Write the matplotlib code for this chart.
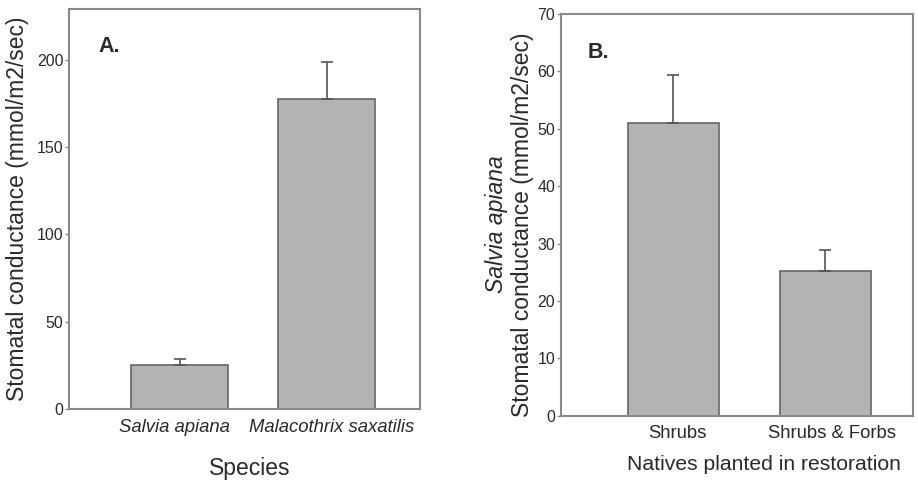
import matplotlib
matplotlib.use("Agg")
import matplotlib.pyplot as plt
from matplotlib.transforms import ScaledTranslation

plt.rcParams['font.family'] = ['Liberation Sans', 'DejaVu Sans']

# Panel A: stomatal conductance by species
species = ["Salvia apiana", "Malacothrix saxatilis"]
cond_species = [25.4, 177.7]
err_species = [3.4, 21.0]

# Panel B: Salvia apiana conductance by restoration planting
plantings = ["Shrubs", "Shrubs & Forbs"]
cond_planting = [51.0, 25.2]
err_planting = [8.4, 3.6]

W, H = 918, 480
fig = plt.figure(figsize=(W / 100, H / 100), dpi=100)

bar_face = "#b3b3b3"
bar_edge = "#666666"
spine_col = "#8a8a8a"
text_col = "#2a2a2a"


def style_axes(ax):
    for s in ax.spines.values():
        s.set_color(spine_col)
        s.set_linewidth(1.5)
    ax.tick_params(axis='y', direction='out', length=3, width=1, color=spine_col,
                   labelsize=11.5, labelcolor=text_col, pad=1)
    ax.tick_params(axis='x', length=0, labelsize=13.3, labelcolor=text_col, pad=7)


def nudge_xticklabels(ax, shifts_px):
    # small horizontal offsets (in pixels) for category labels
    for lab, dx in zip(ax.get_xticklabels(), shifts_px):
        lab.set_transform(lab.get_transform() +
                          ScaledTranslation(dx / 100, 0, fig.dpi_scale_trans))


# ---- Panel A ----
axA = fig.add_axes([69 / W, 1 - 409 / H, 351 / W, 400 / H])
xA = list(range(len(species)))
axA.bar(xA, cond_species, width=0.66, color=bar_face, edgecolor=bar_edge, linewidth=1.2,
        yerr=[[0] * len(err_species), err_species], ecolor="#555555",
        error_kw=dict(elinewidth=1.2, capsize=4, capthick=1.2), zorder=2)
axA.set_xlim(-0.755, 1.633)
axA.set_ylim(0, 229)
axA.set_yticks([0, 50, 100, 150, 200])
axA.set_xticks(xA)
axA.set_xticklabels(species, fontstyle='italic')
style_axes(axA)
nudge_xticklabels(axA, [-6, 5])
axA.text(0.085, 0.905, "A.", transform=axA.transAxes, fontsize=15.5, fontweight='bold',
         color=text_col, ha='left', va='center')

fig.text(18 / W, 1 - 209 / H, "Stomatal conductance (mmol/m2/sec)", rotation=90,
         ha='center', va='center', fontsize=16.5, color=text_col)
fig.text(250 / W, 1 - 468 / H, "Species", ha='center', va='center',
         fontsize=16.5, color=text_col)

# ---- Panel B ----
axB = fig.add_axes([560.7 / W, 1 - 415.7 / H, 352.6 / W, 401.7 / H])
xB = list(range(len(plantings)))
axB.bar(xB, cond_planting, width=0.6, color=bar_face, edgecolor=bar_edge, linewidth=1.2,
        yerr=[[0] * len(err_planting), err_planting], ecolor="#555555",
        error_kw=dict(elinewidth=1.2, capsize=4, capthick=1.2), zorder=2)
axB.set_xlim(-0.74, 1.58)
axB.set_ylim(0, 70)
axB.set_yticks([0, 10, 20, 30, 40, 50, 60, 70])
axB.set_xticks(xB)
axB.set_xticklabels(plantings)
style_axes(axB)
nudge_xticklabels(axB, [4, 7])
axB.text(0.075, 0.905, "B.", transform=axB.transAxes, fontsize=15.5, fontweight='bold',
         color=text_col, ha='left', va='center')

fig.text(497 / W, 1 - 224 / H, "Salvia apiana", rotation=90, ha='center', va='center',
         fontsize=16.5, fontstyle='italic', color=text_col)
fig.text(523 / W, 1 - 224.5 / H, "Stomatal conductance (mmol/m2/sec)", rotation=90,
         ha='center', va='center', fontsize=16.5, color=text_col)
fig.text(764 / W, 1 - 465 / H, "Natives planted in restoration", ha='center', va='center',
         fontsize=15.2, color=text_col)

fig.savefig("out.png", dpi=100)
